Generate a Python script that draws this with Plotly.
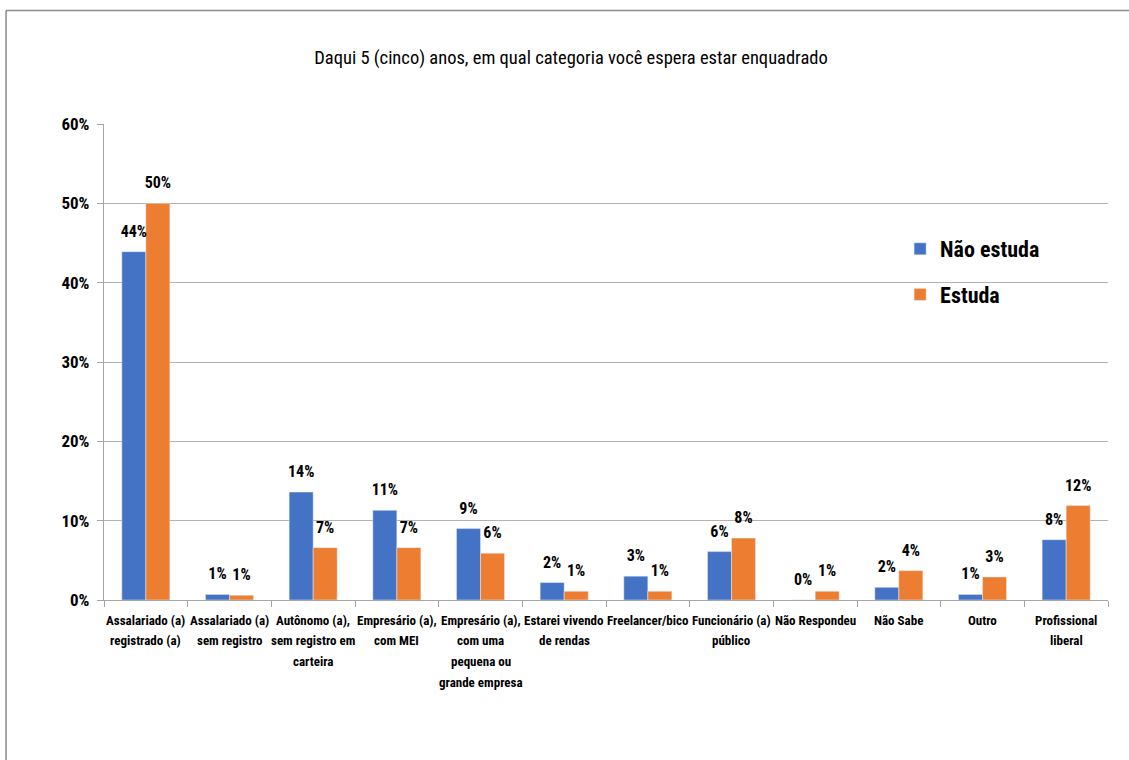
import plotly.graph_objects as go

categories = [
    "Assalariado (a)<br>registrado (a)",
    "Assalariado (a)<br>sem registro",
    "Autônomo (a),<br>sem registro em<br>carteira",
    "Empresário (a),<br>com MEI",
    "Empresário (a),<br>com uma<br>pequena ou<br>grande empresa",
    "Estarei vivendo<br>de rendas",
    "Freelancer/bico",
    "Funcionário (a)<br>público",
    "Não Respondeu",
    "Não Sabe",
    "Outro",
    "Profissional<br>liberal",
]
nao_estuda = [0.439, 0.007, 0.136, 0.113, 0.090, 0.022, 0.030, 0.061, 0.000, 0.016, 0.007, 0.076]
estuda = [0.500, 0.006, 0.066, 0.066, 0.059, 0.011, 0.011, 0.078, 0.011, 0.037, 0.029, 0.119]

tick_vals = [0, 0.1, 0.2, 0.3, 0.4, 0.5, 0.6]
tick_text = ["0%", "10%", "20%", "30%", "40%", "50%", "60%"]

FONT = "Liberation Sans Narrow, Arial Narrow, Roboto Condensed, sans-serif"

W, H = 1129, 760
L, R, T, B = 103.5, 1108, 124, 600
pw, ph = R - L, B - T
GAP = 0.426

def px(x):
    return (x - L) / pw

def py(y):
    return (B - y) / ph

fig = go.Figure()
series = [("Não estuda", nao_estuda, "#4472C4", "a"), ("Estuda", estuda, "#ED7D31", "b")]
for name, vals, color, grp in series:
    fig.add_trace(go.Bar(
        name=name, x=categories, y=vals,
        marker=dict(color=color),
        legendgroup=grp, offsetgroup=grp,
    ))
for name, vals, color, grp in series:
    fig.add_trace(go.Scatter(
        name=name, x=categories, y=vals, mode="markers+text",
        marker=dict(size=16, opacity=0, color=color),
        texttemplate="%{y:.0%}", textposition="top center",
        textfont=dict(size=16, color="#000000", family=FONT, weight="bold"),
        cliponaxis=False, showlegend=False, hoverinfo="skip",
        legendgroup=grp, offsetgroup=grp,
    ))

# category labels, one annotation per text line (Excel-like line spacing)
annotations = []
for cat in categories:
    for i, line in enumerate(cat.split("<br>")):
        annotations.append(dict(
            x=cat, xref="x", y=py(620 + i * 20.7), yref="paper",
            text=line, showarrow=False, xanchor="center", yanchor="middle",
            font=dict(size=13, family=FONT, color="#000000", weight="bold"),
        ))

fig.update_layout(
    width=W, height=H,
    margin=dict(l=L, r=W - R, t=T, b=H - B, pad=0, autoexpand=False),
    paper_bgcolor="white", plot_bgcolor="white",
    barmode="group", bargap=GAP, bargroupgap=0,
    scattermode="group", scattergap=GAP,
    font=dict(family=FONT, color="#000000"),
    title=dict(
        text="Daqui 5 (cinco) anos, em qual categoria você espera estar enquadrado",
        x=571 / W, xref="container", xanchor="center",
        y=1 - 58 / H, yref="container", yanchor="middle",
        font=dict(size=18.5, family=FONT, color="#000000"),
    ),
    legend=dict(
        x=px(900), y=py(228), xanchor="left", yanchor="top",
        font=dict(size=22, family=FONT, color="#000000", weight="bold"),
        bgcolor="rgba(0,0,0,0)", tracegroupgap=14,
        traceorder="grouped",
    ),
    showlegend=True,
    annotations=annotations,
    xaxis=dict(
        type="category", automargin=False, tickangle=0, showticklabels=False,
        showline=True, linecolor="#a6a6a6", linewidth=1.3,
        ticks="outside", tickson="boundaries", ticklen=6, tickcolor="#a6a6a6",
        showgrid=False,
    ),
    yaxis=dict(
        range=[0, 0.6], tickvals=tick_vals, ticktext=tick_text, automargin=False,
        showline=True, linecolor="#a6a6a6", linewidth=1.3,
        ticks="outside", ticklen=6, tickcolor="#a6a6a6", ticklabelstandoff=4,
        showgrid=True, gridcolor="#b3b3b3", gridwidth=1.3,
        tickfont=dict(size=17, family=FONT, color="#000000", weight="bold"),
        zeroline=False,
    ),
    shapes=[
        dict(type="line", xref="paper", yref="paper",
             x0=px(5.5), x1=px(1145), y0=py(10.5), y1=py(10.5),
             line=dict(color="#8c8c8c", width=1.5)),
        dict(type="line", xref="paper", yref="paper",
             x0=px(5.5), x1=px(5.5), y0=py(10.5), y1=py(775),
             line=dict(color="#8c8c8c", width=1.5)),
    ],
)

fig.write_html("out.html", config={"displayModeBar": False},
               post_script="document.body.style.margin='0';")
